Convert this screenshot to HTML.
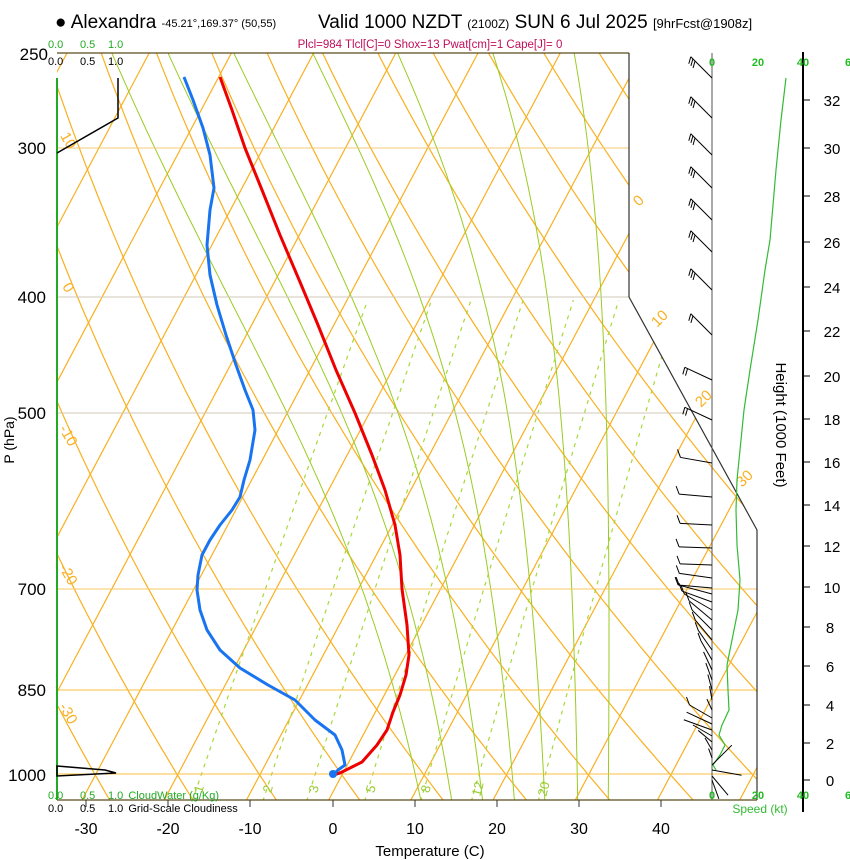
<!DOCTYPE html>
<html><head><meta charset="utf-8"><style>
body{margin:0;background:#fff;}
svg{display:block;font-family:"Liberation Sans",sans-serif;}
</style></head><body>
<svg id="s" width="850" height="860" viewBox="0 0 850 860" xmlns="http://www.w3.org/2000/svg">
<defs><clipPath id="cp"><polygon points="57,53 629,53 629,297 757,530 757,800 57,800"/></clipPath></defs>
<g id="grid" clip-path="url(#cp)"></g>
<g stroke-width="1">
<line x1="57" y1="148" x2="629" y2="148" stroke="#f3c878"/>
<line x1="57" y1="297" x2="629" y2="297" stroke="#d0c8b8"/>
<line x1="57" y1="413" x2="687" y2="413" stroke="#d0c8b8"/>
<line x1="57" y1="589" x2="757" y2="589" stroke="#f8c860"/>
<line x1="57" y1="690" x2="757" y2="690" stroke="#fbbf40"/>
<line x1="57" y1="774" x2="757" y2="774" stroke="#fbbf40"/>
</g>
<polyline points="57,53 629,53" fill="none" stroke="#5a4a1a" stroke-width="1.3"/>
<polyline points="629,53 629,297 757,530 757,800" fill="none" stroke="#333" stroke-width="1.2"/>
<line x1="57" y1="800" x2="757" y2="800" stroke="#5a4a1a" stroke-width="1.3"/>
<line x1="712" y1="53" x2="712" y2="800" stroke="#555" stroke-width="1"/>
<line x1="803" y1="52" x2="803" y2="812" stroke="#000" stroke-width="2"/>
<line x1="57" y1="78" x2="57" y2="800" stroke="#22aa22" stroke-width="2"/>
<g stroke="#333"><line x1="86" y1="800" x2="86" y2="807"/><line x1="168" y1="800" x2="168" y2="807"/><line x1="250" y1="800" x2="250" y2="807"/><line x1="333" y1="800" x2="333" y2="807"/><line x1="415" y1="800" x2="415" y2="807"/><line x1="497" y1="800" x2="497" y2="807"/><line x1="579" y1="800" x2="579" y2="807"/><line x1="661" y1="800" x2="661" y2="807"/></g>
<g font-size="16" text-anchor="middle" fill="#000"><text x="86" y="834">-30</text><text x="168" y="834">-20</text><text x="250" y="834">-10</text><text x="333" y="834">0</text><text x="415" y="834">10</text><text x="497" y="834">20</text><text x="579" y="834">30</text><text x="661" y="834">40</text></g>
<text x="430" y="856" font-size="15" text-anchor="middle">Temperature (C)</text>
<g font-size="17" text-anchor="end"><text x="48" y="60">250</text><text x="46" y="154">300</text><text x="46" y="303">400</text><text x="46" y="419">500</text><text x="46" y="595">700</text><text x="46" y="696">850</text><text x="46" y="781">1000</text></g>
<text transform="translate(14,440) rotate(-90)" font-size="14" text-anchor="middle">P (hPa)</text>
<g stroke="#000"><line x1="803" y1="780" x2="810" y2="780"/><line x1="803" y1="743" x2="810" y2="743"/><line x1="803" y1="705" x2="810" y2="705"/><line x1="803" y1="666" x2="810" y2="666"/><line x1="803" y1="627" x2="810" y2="627"/><line x1="803" y1="587" x2="810" y2="587"/><line x1="803" y1="546" x2="810" y2="546"/><line x1="803" y1="505" x2="810" y2="505"/><line x1="803" y1="462" x2="810" y2="462"/><line x1="803" y1="419" x2="810" y2="419"/><line x1="803" y1="376" x2="810" y2="376"/><line x1="803" y1="331" x2="810" y2="331"/><line x1="803" y1="287" x2="810" y2="287"/><line x1="803" y1="242" x2="810" y2="242"/><line x1="803" y1="196" x2="810" y2="196"/><line x1="803" y1="148" x2="810" y2="148"/><line x1="803" y1="100" x2="810" y2="100"/></g>
<g font-size="15" text-anchor="middle"><text x="830" y="786">0</text><text x="830" y="749">2</text><text x="830" y="711">4</text><text x="830" y="672">6</text><text x="830" y="633">8</text><text x="832" y="593">10</text><text x="832" y="552">12</text><text x="832" y="511">14</text><text x="832" y="468">16</text><text x="832" y="425">18</text><text x="832" y="382">20</text><text x="832" y="337">22</text><text x="832" y="293">24</text><text x="832" y="248">26</text><text x="832" y="202">28</text><text x="832" y="154">30</text><text x="832" y="106">32</text></g>
<text transform="translate(776,425) rotate(90)" font-size="15" text-anchor="middle">Height (1000 Feet)</text>
<g font-size="11" fill="#22bb22" font-weight="bold" text-anchor="middle"><text x="712" y="66">0</text><text x="758" y="66">20</text><text x="803" y="66">40</text><text x="848" y="66">6</text><text x="712" y="799">0</text><text x="758" y="799">20</text><text x="803" y="799">40</text><text x="848" y="799">6</text></g>
<text x="760" y="813" font-size="12" fill="#33bb33" text-anchor="middle">Speed (kt)</text>
<text x="55" y="28" font-size="19">● Alexandra <tspan font-size="11" dy="-1">-45.21°,169.37° (50,55)</tspan></text>
<text x="318" y="28" font-size="19">Valid 1000 NZDT <tspan font-size="12">(2100Z)</tspan> SUN 6 Jul 2025 <tspan font-size="13">[9hrFcst@1908z]</tspan></text>
<text x="430" y="48" font-size="11.5" fill="#c0105a" text-anchor="middle">Plcl=984 Tlcl[C]=0 Shox=13 Pwat[cm]=1 Cape[J]= 0</text>
<g font-size="11"><text x="48" y="48" fill="#22aa22">0.0</text><text x="80" y="48" fill="#22aa22">0.5</text><text x="108" y="48" fill="#22aa22">1.0</text>
<text x="48" y="65">0.0</text><text x="80" y="65">0.5</text><text x="108" y="65">1.0</text>
<text x="48" y="799" fill="#22aa22">0.0</text><text x="80" y="799" fill="#22aa22">0.5</text><text x="108" y="799" fill="#22aa22">1.0 <tspan dx="2">CloudWater (g/Kg)</tspan></text>
<text x="48" y="812">0.0</text><text x="80" y="812">0.5</text><text x="108" y="812">1.0 <tspan dx="2">Grid-Scale Cloudiness</tspan></text></g>
<g font-size="15" fill="#f9b020" text-anchor="middle">
<text transform="translate(64,143) rotate(60)">10</text><text transform="translate(64,290) rotate(60)">0</text><text transform="translate(64,438) rotate(60)">-10</text><text transform="translate(64,577) rotate(60)">-20</text><text transform="translate(64,716) rotate(60)">-30</text>
<text transform="translate(642,204) rotate(-45)">0</text><text transform="translate(663,322) rotate(-45)">10</text><text transform="translate(707,402) rotate(-45)">20</text><text transform="translate(748,482) rotate(-45)">30</text></g>
<g font-size="13" fill="#99cc33" text-anchor="middle">
<text transform="translate(203,790) rotate(-75)">1</text><text transform="translate(272,790) rotate(-75)">2</text><text transform="translate(318,790) rotate(-75)">3</text><text transform="translate(375,790) rotate(-75)">5</text><text transform="translate(430,790) rotate(-75)">8</text><text transform="translate(482,790) rotate(-75)">12</text><text transform="translate(548,790) rotate(-75)">20</text></g>
<polyline points="118,78 118,118 57,153" fill="none" stroke="#000" stroke-width="1.5"/>
<polygon points="57,766 105,770 116,773 57,776" fill="none" stroke="#000" stroke-width="1.5"/>
<polyline fill="none" stroke="#33bb33" stroke-width="1.2" points="786,78 781,120 776,170 770,240 765,270 758,320 750,370 744,410 740,450 737,480 736,510 737,545 740,580 738,610 732,640 727,665 728,690 729,710 722,725 719,735 725,745 720,755 713,765 716,770"/>
<g id="barbs" stroke="#000" stroke-width="1" fill="none"></g>
<polyline fill="none" stroke="#ee0000" stroke-width="3" stroke-linejoin="round" points="220,77 232,110 245,148 262,190 280,235 300,282 318,325 336,370 355,413 372,455 385,490 395,525 400,555 402,589 407,625 409,655 406,675 400,695 393,712 387,730 377,745 362,762 350,768 340,773 333,775"/>
<polyline fill="none" stroke="#1874f0" stroke-width="3" stroke-linejoin="round" points="184,77 193,100 203,128 210,155 214,188 210,210 207,245 210,275 217,305 226,335 236,365 245,390 253,410 255,430 250,460 244,480 240,497 232,510 220,525 210,540 202,555 198,575 197,590 200,610 207,630 220,650 240,668 268,685 295,700 315,720 335,735 342,750 345,765 338,770 333,775"/>
<circle cx="333" cy="774" r="4" fill="#1874f0"/>
</svg>
<script>
(function(){
var NS="http://www.w3.org/2000/svg",g=document.getElementById('grid');
function Y(p){return 775-521*Math.log(1000/p);}
function X(T,y){return 343+8.22*T+0.53*(773-y);}
function line(pts,col,w,dash){var e=document.createElementNS(NS,'polyline');e.setAttribute('points',pts.map(function(a){return a[0].toFixed(1)+','+a[1].toFixed(1)}).join(' '));e.setAttribute('fill','none');e.setAttribute('stroke',col);e.setAttribute('stroke-width',w);if(dash)e.setAttribute('stroke-dasharray',dash);g.appendChild(e);}
var pTop=240,pBot=1060,p,T;
for(T=-150;T<=60;T+=10){line([[X(T,810),810],[X(T,40),40]],'#f9b020',1.2);}
for(var th=-40;th<=200;th+=10){var pts=[];for(p=pBot;p>=pTop;p-=10){T=(th+273.15)*Math.pow(p/1000,0.2857)-273.15;var y=Y(p);pts.push([X(T,y),y]);}line(pts,'#f9b020',1.2);}
function es(t){return 6.112*Math.exp(17.67*t/(t+243.5));}
function dTdp(Tk,p){var t=Tk-273.15,e=es(t),rs=0.622*e/(p-e),Lv=2.5e6,Rd=287,cp=1005;return (Rd*Tk+Lv*rs)/(p*(cp+Lv*Lv*rs*0.622/(Rd*Tk*Tk)));}
[8.9,12.8,16.7,20.7,24.5,28.6,32.4].forEach(function(T0){var Tk=T0+273.15;for(p=1000;p<pBot;p+=5){Tk+=dTdp(Tk,p)*5;}
 var pts=[];for(p=pBot;p>=pTop;p-=5){var y=Y(p);pts.push([X(Tk-273.15,y)-0.055*(773-y),y]);Tk-=dTdp(Tk,p)*5;}
 line(pts,'#99cc22',1);});
[1,2,3,5,8,12,20].forEach(function(w){var pts=[];w/=1000;for(p=1052;p>=400;p-=10){var e=w*p/(0.622+w),l=Math.log(e/6.112),t=243.5*l/(17.67-l);var y=Y(p);pts.push([X(t,y),y]);}line(pts,'#a8d838',1.2,'4,5');});
var b=document.getElementById('barbs');
function seg(x1,y1,x2,y2){var e=document.createElementNS(NS,'line');e.setAttribute('x1',x1);e.setAttribute('y1',y1);e.setAttribute('x2',x2);e.setAttribute('y2',y2);b.appendChild(e);}
var up=[78,118,155,188,220,252,290,335,380,420];
up.forEach(function(y,k){var x0=712,y0=y,ang=(k<8?-135:-155)*Math.PI/180,L=30;var x1=x0+L*Math.cos(ang),y1=y0+L*Math.sin(ang);seg(x0,y0,x1,y1);var n=k<7?3:2;for(var j=0;j<n;j++){var bx=x1+j*3*Math.cos(ang+Math.PI),by=y1+j*3*Math.sin(ang+Math.PI);seg(bx,by,bx-2,by+7);}});
var lo=[[463,-170,32],[497,-175,33],[525,-177,32],[548,-178,33],[565,-178,32],[578,-172,33],[588,-175,34],[594,-165,34],[602,-160,32],[610,-150,32],[620,-140,30],[630,-135,28],[640,-130,26],[650,-125,24],[660,-120,22],[670,-115,20],[680,-110,18],[690,-105,16],[700,-100,14],[710,-115,12],[718,-150,26],[724,-155,28],[730,-160,30],[736,-150,22],[742,-140,18],[750,-120,14],[758,-110,10],[765,-45,28],[770,10,30],[776,50,25],[780,70,20]];
lo.forEach(function(a){var ang=a[1]*Math.PI/180,x1=712+a[2]*Math.cos(ang),y1=a[0]+a[2]*Math.sin(ang);seg(712,a[0],x1,y1);if(a[2]>20&&a[0]<720)seg(x1,y1,x1-3,y1-8);});
})();
</script>
</body></html>
